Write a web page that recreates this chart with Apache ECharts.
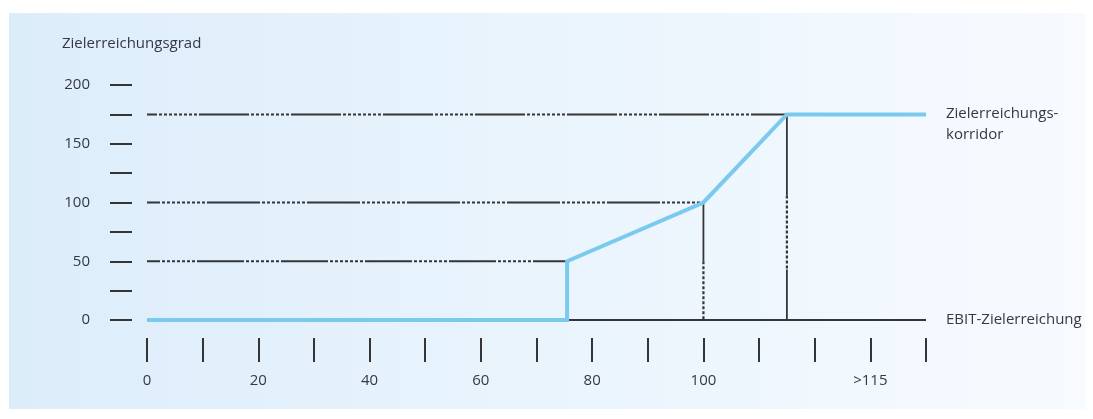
<!DOCTYPE html>
<html><head><meta charset="utf-8">
<script src="https://cdn.jsdelivr.net/npm/echarts@6/dist/echarts.min.js"></script>
<style>html,body{margin:0;padding:0;background:#fff}#c{width:1093px;height:419px}</style>
</head><body><div id="c"></div>
<script>
// ---- data ----
const yAxisTitle = 'Zielerreichungsgrad';
const xTickLabels = ['0','','20','','40','','60','','80','','100','','','>115',''];
const yTickLabels = ['0','','50','','100','','150','','200'];
const corridorName = 'Zielerreichungs-\nkorridor';
const baselineName = 'EBIT-Zielerreichung';
const corridor = [[0,0],[75.5,0],[75.5,50],[100,100],[115,175],[140,175]];
const baseline = [[0,0],[140,0]];
const level50 = [[0,50],[75.5,50]];
const level100 = [[0,100],[100,100]];
const level175 = [[0,175],[115,175]];
const v100Solid = [[100,100],[100,50]];
const v100Dotted = [[100,50],[100,0]];
const v115SolidTop = [[115,175],[115,106]];
const v115Dotted = [[115,106],[115,43]];
const v115SolidBottom = [[115,43],[115,0]];

// ---- styling helpers ----
const ink = '#353535';
const textColor = '#363845';
const font = 'Open Sans';
const fs = 15;
function dashDot(solid, dots) {
  const a = [solid, 2];
  for (let i = 0; i < dots; i++) { a.push(3, 2); }
  return a;
}
function seg(data, type, offset, width) {
  return {
    type: 'line', data: data, symbol: 'none', silent: true, animation: false, z: 2,
    xAxisIndex: 0, yAxisIndex: 0,
    lineStyle: { color: ink, width: width || 1.8, type: type, dashOffset: offset || 0, cap: 'butt' }
  };
}
const hidden = { show: false };

const chart = echarts.init(document.getElementById('c'), null, { renderer: 'canvas' });
chart.setOption({
  animation: false,
  graphic: [
    { type: 'rect', z: -10, shape: { x: 9, y: 13, width: 1076, height: 396 },
      style: { fill: new echarts.graphic.LinearGradient(0, 0, 1, 0, [
        { offset: 0, color: '#dcedfa' }, { offset: 1, color: '#f7fbff' }]) } },
    { type: 'text', z: 10, left: 62, top: 36,
      style: { text: yAxisTitle, fill: textColor, font: fs + 'px "' + font + '"' } }
  ],
  grid: [
    { left: 147, right: 167, top: 85, bottom: 99 },   // data
    { left: 132, right: 182, top: 85, bottom: 99 },   // y ticks
    { left: 147, right: 167, top: 103, bottom: 81 }   // x ticks
  ],
  xAxis: [
    { gridIndex: 0, type: 'value', min: 0, max: 140, interval: 10, show: false },
    { gridIndex: 1, type: 'value', min: 0, max: 140, interval: 10, show: false },
    { gridIndex: 2, type: 'value', min: 0, max: 140, interval: 10,
      axisLine: hidden, splitLine: hidden,
      axisTick: { show: true, length: 24, lineStyle: { color: ink, width: 2 } },
      axisLabel: { margin: 35, color: textColor, fontFamily: font, fontSize: fs,
        formatter: v => xTickLabels[Math.round(v / 10)] } }
  ],
  yAxis: [
    { gridIndex: 0, type: 'value', min: 0, max: 200, interval: 25, show: false },
    { gridIndex: 1, type: 'value', min: 0, max: 200, interval: 25,
      axisLine: hidden, splitLine: hidden,
      axisTick: { show: true, length: 22, lineStyle: { color: ink, width: 2 } },
      axisLabel: { margin: 42, color: textColor, fontFamily: font, fontSize: fs,
        formatter: v => yTickLabels[Math.round(v / 25)] } },
    { gridIndex: 2, type: 'value', min: 0, max: 200, interval: 25, show: false }
  ],
  series: [
    Object.assign(seg(baseline, 'solid'), {
      endLabel: { show: true, formatter: baselineName, distance: 20, color: textColor,
        fontFamily: font, fontSize: fs }
    }),
    seg(level50, dashDot(47, 7), 34, 2),
    seg(level100, dashDot(53, 9), 40, 2),
    seg(level175, dashDot(50, 8), 40, 2),
    seg(v100Solid, 'solid'),
    seg(v100Dotted, [3, 2], 0, 2.2),
    seg(v115SolidTop, 'solid'),
    seg(v115Dotted, [3, 2], 0, 2.2),
    seg(v115SolidBottom, 'solid'),
    {
      type: 'line', data: corridor, symbol: 'none', silent: true, animation: false, z: 5,
      xAxisIndex: 0, yAxisIndex: 0,
      lineStyle: { color: '#7acaf0', width: 4, join: 'miter' },
      endLabel: { show: true, formatter: corridorName, distance: 20, color: textColor,
        fontFamily: font, fontSize: fs, lineHeight: 21, align: 'left', verticalAlign: 'top',
        offset: [0, -11] }
    }
  ]
});
</script></body></html>
